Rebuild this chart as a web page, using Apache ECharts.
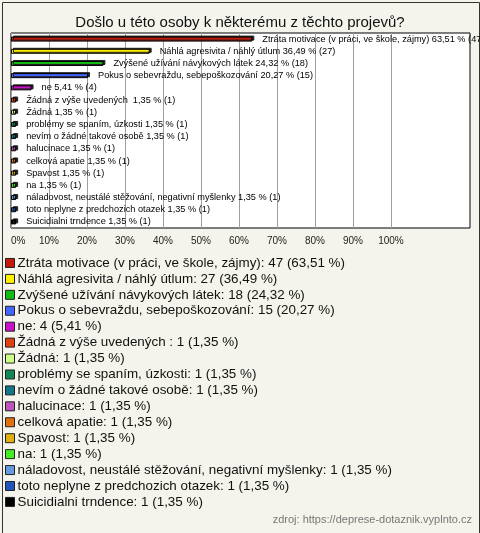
<!DOCTYPE html>
<html><head><meta charset="utf-8">
<script src="https://cdn.jsdelivr.net/npm/echarts@6/dist/echarts.min.js"></script>
<style>html,body{margin:0;padding:0;background:#f4f4ec}#c{width:480px;height:533px}</style>
</head><body><div id="c"></div>
<script>
const categories = [
  "Ztráta motivace (v práci, ve škole, zájmy)",
  "Náhlá agresivita / náhlý útlum",
  "Zvýšené užívání návykových látek",
  "Pokus o sebevraždu, sebepoškozování",
  "ne",
  "Žádná z výše uvedených ",
  "Žádná",
  "problémy se spaním, úzkosti",
  "nevím o žádné takové osobě",
  "halucinace",
  "celková apatie",
  "Spavost",
  "na",
  "náladovost, neustálé stěžování, negativní myšlenky",
  "toto neplyne z predchozich otazek",
  "Suicidialni trndence"
];
const counts = [47, 27, 18, 15, 4, 1, 1, 1, 1, 1, 1, 1, 1, 1, 1, 1];
const percents = [63.51, 36.49, 24.32, 20.27, 5.41, 1.35, 1.35, 1.35, 1.35, 1.35, 1.35, 1.35, 1.35, 1.35, 1.35, 1.35];
const colors = ["#c41a0a", "#fff000", "#11bb11", "#4466ff", "#cc11cc", "#e04010", "#ccff88", "#118855",
  "#117788", "#bb55bb", "#e07010", "#e0b010", "#44ee22", "#6699dd", "#2255bb", "#000000"];
const xTicks = [0, 10, 20, 30, 40, 50, 60, 70, 80, 90, 100];
const X_MAX = 120.8;

const fmtPct = v => v.toFixed(2).replace('.', ',');
const chart = echarts.init(document.getElementById('c'));
const series = categories.map((name, i) => ({
  name: name,
  type: 'bar',
  barWidth: 5,
  barGap: '-100%',
  data: categories.map((_, j) => j === i ? percents[i] : '-'),
  itemStyle: { color: colors[i], borderColor: '#000', borderWidth: 1,
    shadowColor: '#222', shadowOffsetX: 2, shadowOffsetY: -1, shadowBlur: 0 },
  label: { show: true, position: 'right', distance: 10, color: '#000',
    fontFamily: 'Liberation Sans, Arial, sans-serif', fontSize: 9.2,
    formatter: () => name + ' ' + fmtPct(percents[i]) + ' % (' + counts[i] + ')' },
  emphasis: { disabled: true },
  animation: false
}));
const gridColors = [];
for (let k = 0; k < 14; k++) gridColors.push(k <= 10 ? '#a0a0a0' : 'rgba(0,0,0,0)');

chart.setOption({
  backgroundColor: '#f4f4ec',
  animation: false,
  title: { text: 'Došlo u této osoby k některému z těchto projevů?', left: 'center', top: 10,
    textStyle: { fontFamily: 'Liberation Sans, Arial, sans-serif', fontSize: 15, fontWeight: 'normal', color: '#111' } },
  grid: { left: 11, right: 10, top: 33, bottom: 305, show: true, backgroundColor: '#fff', borderColor: '#000', borderWidth: 1 },
  xAxis: { type: 'value', min: 0, max: X_MAX, interval: 10,
    axisLine: { show: false }, axisTick: { show: false },
    splitLine: { show: true, lineStyle: { color: gridColors, width: 1 } },
    axisLabel: { margin: 8, fontSize: 10, color: '#222', fontFamily: 'Liberation Sans, Arial, sans-serif', alignMinLabel: 'left',
      formatter: v => xTicks.indexOf(v) >= 0 ? v + '%' : '' } },
  yAxis: { type: 'category', data: categories, inverse: true, show: false },
  legend: { orient: 'vertical', left: 5, top: 255, padding: 0, itemWidth: 9, itemHeight: 9, itemGap: 0, icon: 'rect',
    itemStyle: { borderColor: '#222', borderWidth: 1, shadowBlur: 0, shadowOffsetX: 0, shadowOffsetY: 0 },
    selectedMode: false,
    textStyle: { fontFamily: 'Liberation Sans, Arial, sans-serif', fontSize: 13.4, color: '#111', lineHeight: 15.93, padding: [0, 0, 0, -2] },
    formatter: n => { const i = categories.indexOf(n); return n + ': ' + counts[i] + ' (' + fmtPct(percents[i]) + ' %)'; },
    data: categories },
  graphic: [
    { type: 'text', right: 8, top: 514, style: { text: 'zdroj: https://deprese-dotaznik.vyplnto.cz', fill: '#777', fontSize: 11, fontFamily: 'Liberation Sans, Arial, sans-serif' } },
    { type: 'rect', left: 0, top: 0, shape: { x: 0.5, y: 0.5, width: 477, height: 531 }, style: { fill: 'none', stroke: '#333', lineWidth: 1 }, silent: true }
  ],
  series: series
});
</script></body></html>
